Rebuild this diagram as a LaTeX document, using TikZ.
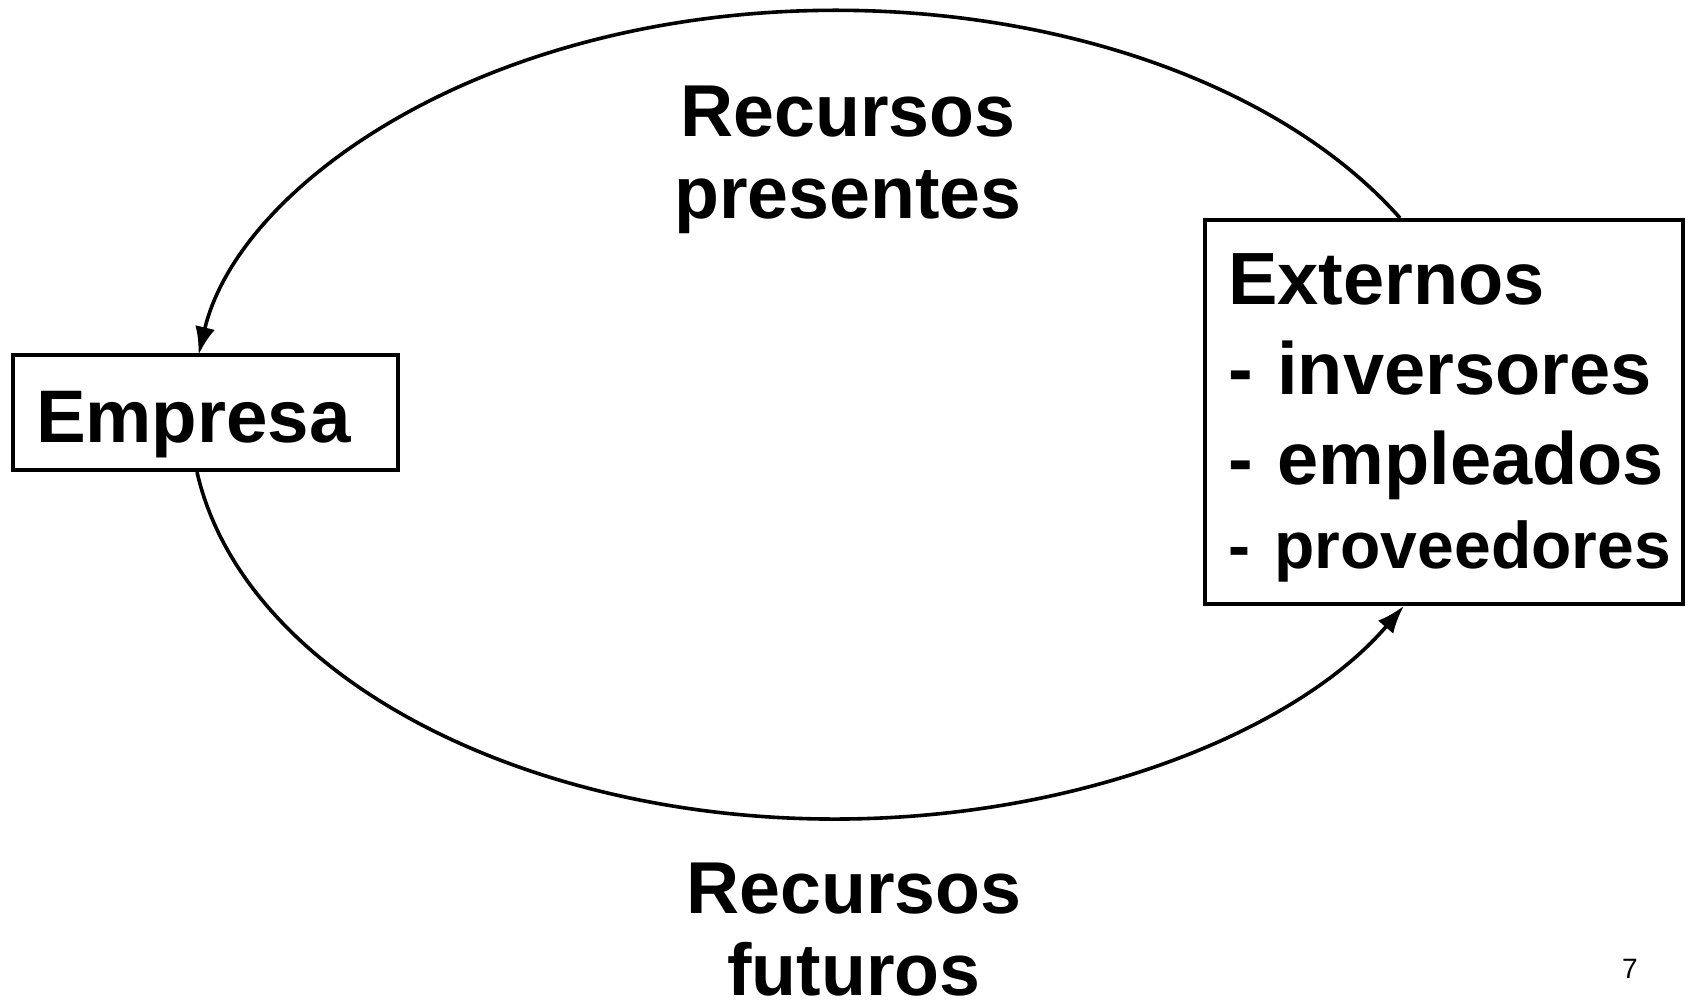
\documentclass[tikz,border=0pt]{standalone}
\usepackage{fontspec}
\setmainfont{Liberation Sans}
\usetikzlibrary{arrows.meta,calc}

\begin{document}
\begin{tikzpicture}[x=1pt,y=-1pt,
    caja/.style={draw, line width=4pt, align=left, inner xsep=23pt, inner ysep=0pt, anchor=north west},
    grande/.style={font=\fontsize{73.5}{82}\selectfont\bfseries},
    flujo/.style={line width=3.6pt, -{Latex[length=28pt,width=20pt]}}]
    \useasboundingbox (0,0) rectangle (1690,1007);

    % Empresa
    \node[caja, font=\fontsize{74.5}{82}\selectfont\bfseries, text width=339pt, text height=87pt, text depth=28pt] (empresa) at (11,353) {Empresa};

    % Externos
    \node[caja, font=\fontsize{74}{90}\selectfont\bfseries, text width=432pt, text height=84pt, text depth=300pt] (externos) at (1203,218)
        {\mbox{Externos}\\\mbox{- inversores}\\\mbox{- empleados}\\[-6pt]\mbox{\fontsize{66}{90}\selectfont - proveedores}};

    % Recursos presentes (arriba)
    \draw[flujo] ([xshift=197pt]externos.north west) arc[start angle=-29.1, end angle=-171.5, x radius=645, y radius=404.25];
    \node[grande, align=center, inner sep=0pt] (presentes) at (848,159.5) {Recursos\\presentes};

    % Recursos futuros (abajo)
    \draw[flujo] ([xshift=186pt]empresa.south west) arc[start angle=171.86, end angle=28.2, x radius=645, y radius=404.25];
    \node[grande, align=center, inner sep=0pt] (futuros) at (854,930) {Recursos\\futuros};

    % numero de pagina
    \node[font=\fontsize{28}{34}\selectfont, anchor=base] (pagina) at (1630,978) {7};
\end{tikzpicture}
\end{document}
